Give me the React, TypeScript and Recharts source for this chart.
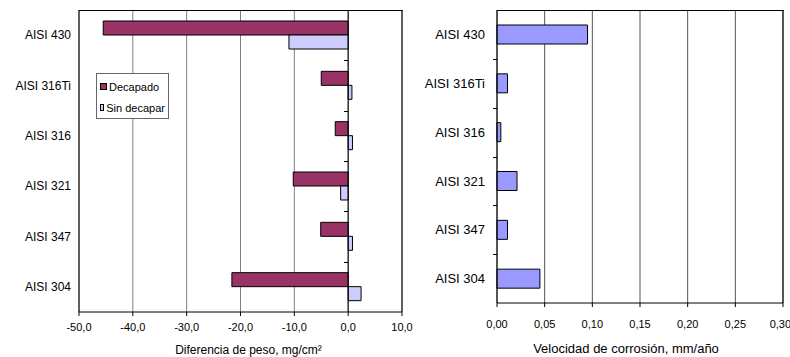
import {
  BarChart,
  Bar,
  XAxis,
  YAxis,
  CartesianGrid,
  ReferenceLine,
} from "recharts";

const categories = ["AISI 430", "AISI 316Ti", "AISI 316", "AISI 321", "AISI 347", "AISI 304"];
const decapado = [-45.5, -5.0, -2.4, -10.2, -5.1, -21.6];
const sinDecapar = [-11.0, 0.7, 0.8, -1.4, 0.8, 2.4];
const velocidad = [0.095, 0.011, 0.004, 0.021, 0.011, 0.045];
const pesoTicks = [-50, -40, -30, -20, -10, 0, 10];
const velTicks = [0, 0.05, 0.1, 0.15, 0.2, 0.25, 0.3];

const FONT = "'Liberation Sans', Arial, sans-serif";

const pesoRows = categories.map((name, i) => ({
  name,
  decapado: decapado[i],
  sinDecapar: sinDecapar[i],
}));
const velRows = categories.map((name, i) => ({ name, velocidad: velocidad[i] }));

const comma = (digits: number) => (v: number) => v.toFixed(digits).replace(".", ",");

// plot frame geometry, used only for the frame overlay
const PLOT_TOP = 10;
const pesoPlot = { left: 79, width: 323, height: 302, origin: 269 };
const velPlot = { left: 87, width: 286, height: 293, origin: 0 };

const legendItems = [
  { label: "Decapado", color: "#993366" },
  { label: "Sin decapar", color: "#CCCCFF" },
];

function PesoLegend() {
  return (
    <div
      style={{
        position: "absolute",
        left: 96,
        top: 73,
        width: 73,
        height: 46,
        boxSizing: "border-box",
        border: "1px solid #666",
        background: "#fff",
        padding: "2px 3px",
        fontFamily: FONT,
        fontSize: 11,
        whiteSpace: "nowrap",
      }}
    >
      {legendItems.map((it) => (
        <div key={it.label} style={{ display: "flex", alignItems: "center", height: 21 }}>
          <span
            style={{
              display: "inline-block",
              width: 5,
              height: 5,
              background: it.color,
              border: "1px solid #000",
              marginRight: 2,
            }}
          />
          {it.label}
        </div>
      ))}
    </div>
  );
}

// top edge of the plot frame and the short marks between categories
function FrameOverlay({ plot }: { plot: typeof pesoPlot }) {
  const band = plot.height / categories.length;
  return (
    <>
      <div
        style={{
          position: "absolute",
          left: plot.left,
          top: PLOT_TOP,
          width: plot.width + 1,
          height: 1,
          background: "#000",
          pointerEvents: "none",
        }}
      />
      {categories.slice(1).map((c, i) => (
        <div
          key={c}
          style={{
            position: "absolute",
            left: plot.left + plot.origin - 4,
            top: Math.round(PLOT_TOP + band * (i + 1)),
            width: 4,
            height: 1,
            background: "#000",
            pointerEvents: "none",
          }}
        />
      ))}
    </>
  );
}

export default function App() {
  return (
    <div
      style={{
        position: "absolute",
        left: 0,
        top: 0,
        width: 790,
        height: 357,
        background: "#fff",
        fontFamily: FONT,
      }}
    >
      <div style={{ position: "absolute", left: 0, top: 0, width: 420, height: 357 }}>
        <BarChart
          width={420}
          height={357}
          data={pesoRows}
          layout="vertical"
          barSize={14}
          barGap={0}
          margin={{ top: PLOT_TOP, right: 18, left: 0, bottom: 0 }}
        >
          <CartesianGrid horizontal={false} stroke="#808080" />
          <XAxis
            type="number"
            domain={[-50, 10]}
            ticks={pesoTicks}
            tickFormatter={comma(1)}
            tick={{ fill: "#000", fontSize: 11, fontFamily: FONT }}
            tickSize={4}
            tickMargin={7}
            axisLine={{ stroke: "#000" }}
            tickLine={{ stroke: "#000" }}
            height={45}
            label={{
              value: "Diferencia de peso, mg/cm²",
              position: "insideBottom",
              offset: 3,
              dx: 8,
              fill: "#000",
              fontSize: 12,
              fontFamily: FONT,
            }}
          />
          <YAxis
            type="category"
            dataKey="name"
            width={79}
            tickSize={0}
            tickMargin={8}
            tickLine={false}
            axisLine={{ stroke: "#000" }}
            tick={{ fill: "#000", fontSize: 12, fontFamily: FONT }}
          />
          <ReferenceLine x={0} stroke="#000" />
          <ReferenceLine x={10} stroke="#000" />
          <Bar
            dataKey="decapado"
            name="Decapado"
            fill="#993366"
            stroke="#000"
            strokeWidth={1}
            isAnimationActive={false}
          />
          <Bar
            dataKey="sinDecapar"
            name="Sin decapar"
            fill="#CCCCFF"
            stroke="#000"
            strokeWidth={1}
            isAnimationActive={false}
          />
        </BarChart>
        <FrameOverlay plot={pesoPlot} />
        <PesoLegend />
      </div>

      <div style={{ position: "absolute", left: 410, top: 0, width: 380, height: 357 }}>
        <BarChart
          width={380}
          height={357}
          data={velRows}
          layout="vertical"
          barSize={19}
          margin={{ top: PLOT_TOP, right: 7, left: 0, bottom: 0 }}
        >
          <CartesianGrid horizontal={false} stroke="#555" />
          <XAxis
            type="number"
            domain={[0, 0.3]}
            ticks={velTicks}
            tickFormatter={comma(2)}
            tick={{ fill: "#000", fontSize: 11, fontFamily: FONT }}
            tickSize={4}
            tickMargin={13}
            axisLine={{ stroke: "#000" }}
            tickLine={{ stroke: "#000" }}
            height={54}
            label={{
              value: "Velocidad de corrosión, mm/año",
              position: "insideBottom",
              offset: 4,
              dx: -14,
              fill: "#000",
              fontSize: 13,
              fontFamily: FONT,
            }}
          />
          <YAxis
            type="category"
            dataKey="name"
            width={87}
            tickSize={0}
            tickMargin={12}
            tickLine={false}
            axisLine={{ stroke: "#000" }}
            tick={{ fill: "#000", fontSize: 13, fontFamily: FONT }}
          />
          <ReferenceLine x={0.3} stroke="#000" />
          <Bar
            dataKey="velocidad"
            fill="#9999FF"
            stroke="#000"
            strokeWidth={1}
            isAnimationActive={false}
          />
        </BarChart>
        <FrameOverlay plot={velPlot} />
      </div>
    </div>
  );
}
